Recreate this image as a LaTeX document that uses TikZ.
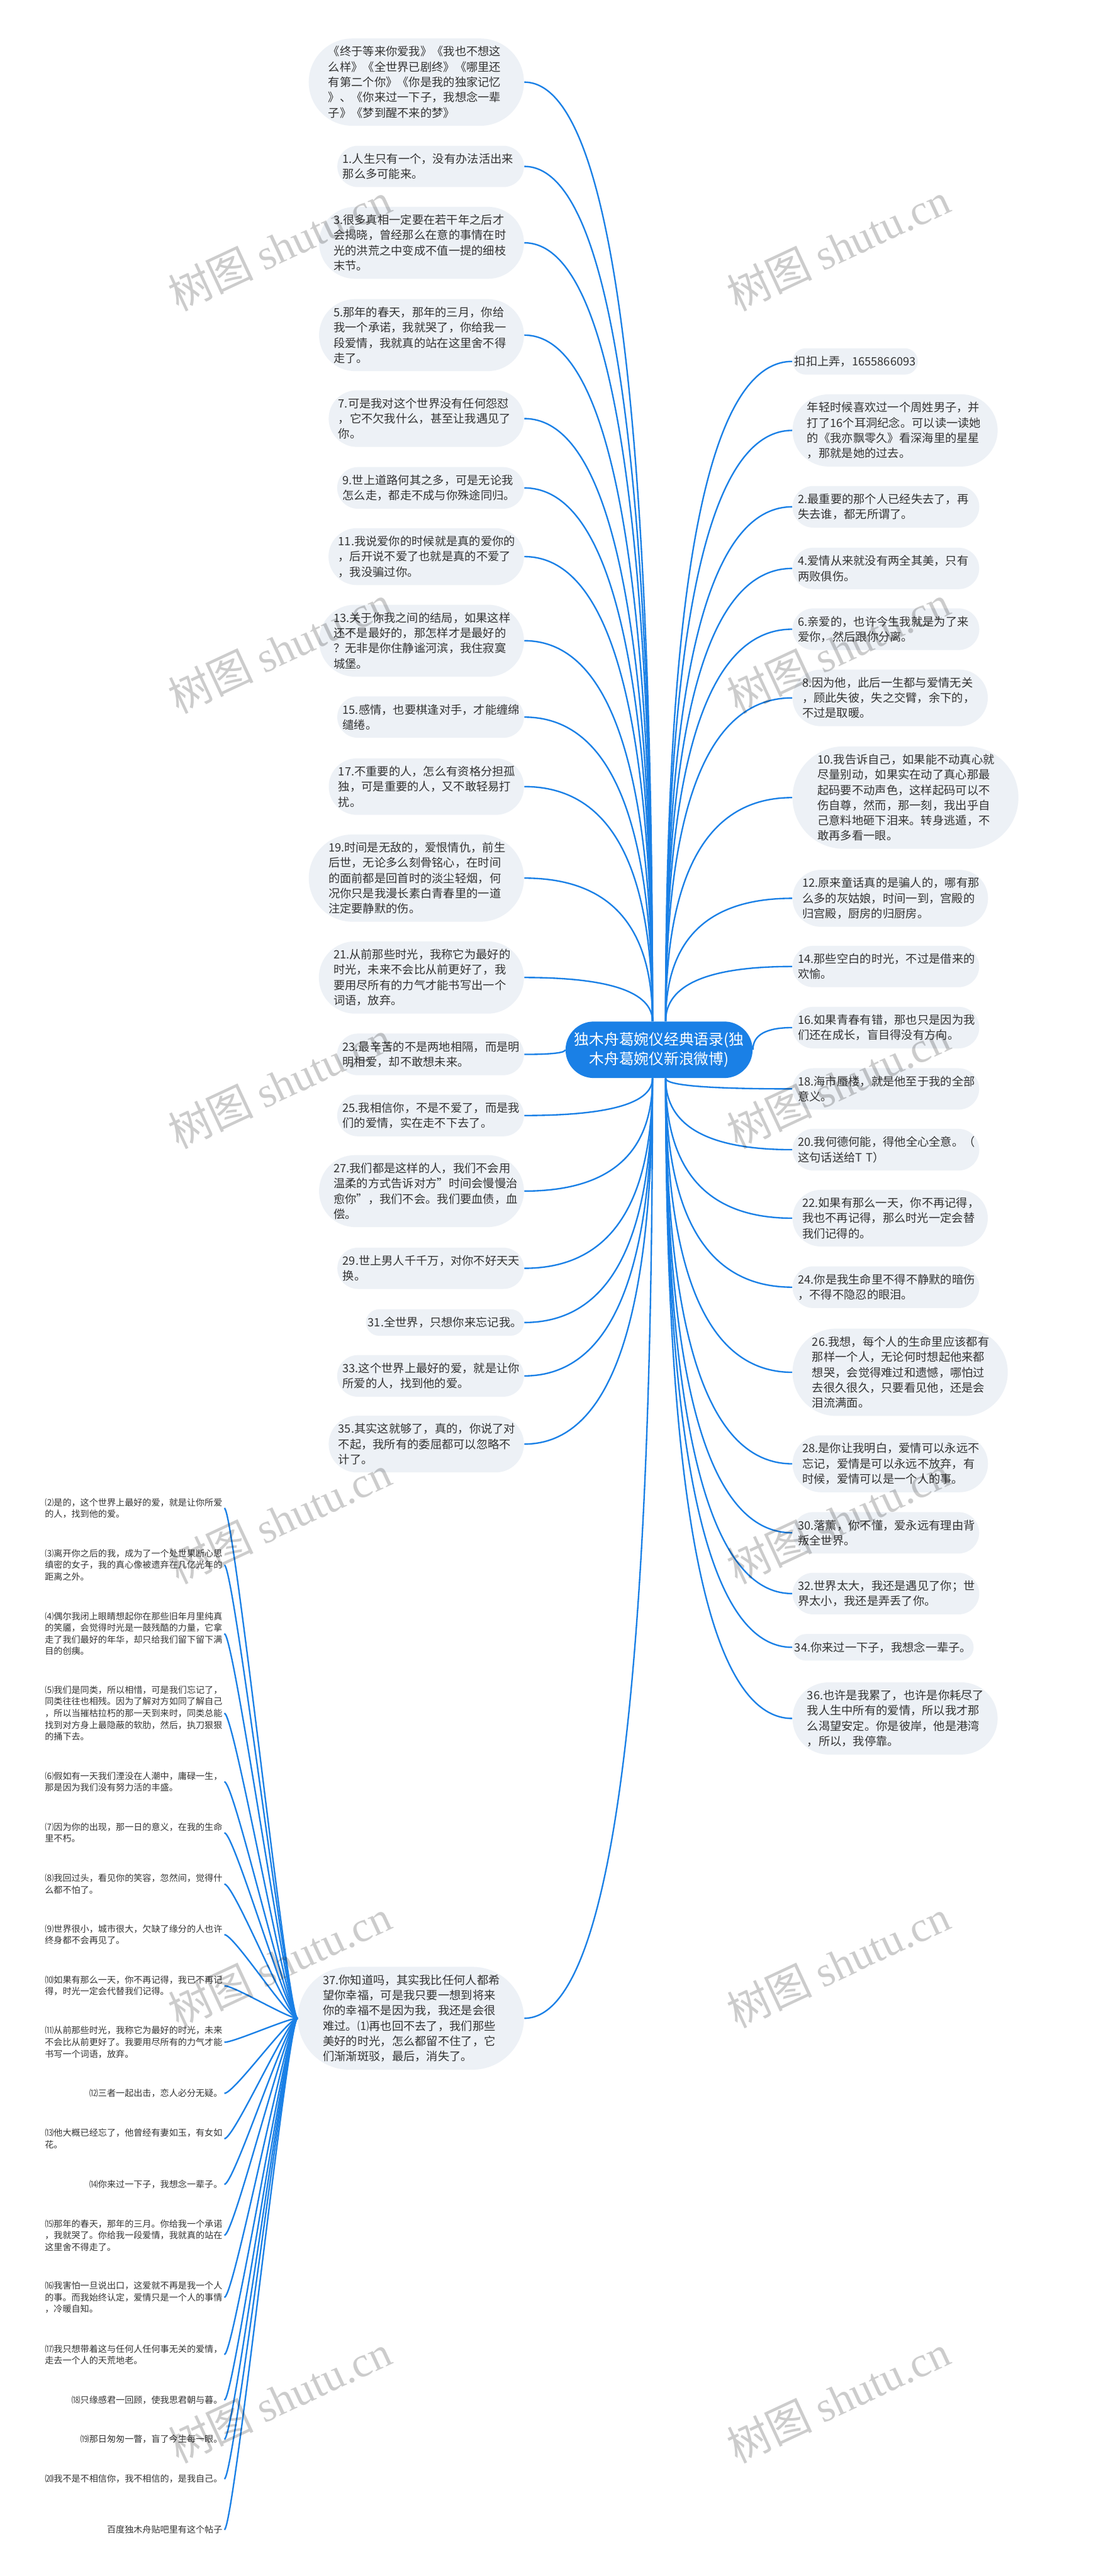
\documentclass[tikz,border=0pt]{standalone}
\usepackage{fontspec}
\setmainfont{Noto Sans CJK SC}
\newfontfamily\wmfont{Liberation Serif}
\usetikzlibrary{calc}
\usetikzlibrary{shapes.misc}
\definecolor{lineblue}{RGB}{26,128,230}
\definecolor{bubblefill}{RGB}{237,241,246}
\definecolor{textgray}{RGB}{51,51,51}

% curved branch from the root, and from a leaf text to node 37
\newcommand{\rootlink}[2]{\draw[link] (#1) .. controls ($(#1)!0.667!(#1|-#2)$) and ($(#2)!0.667!(#1|-#2)$) .. (#2);}
\newcommand{\leaflink}[2]{\draw[link] (#1.east) .. controls ($(#1.east)+(6,0)$) and ($(#2.west)+(-6,0)$) .. (#2.west);}

\begin{document}
\begin{tikzpicture}[x=1pt,y=-1pt,
  bubble/.style={rounded rectangle, fill=bubblefill, text=textgray, inner xsep=0.5pt, inner ysep=4.7pt, font=\fontsize{7}{9.3}\selectfont},
  wide/.style={text width=107pt, align=left},
  root/.style={rounded rectangle, fill=lineblue, text=white, align=center, inner xsep=1.5pt, inner ysep=6.4pt, font=\fontsize{9.1}{12.1}\selectfont},
  leaf/.style={anchor=east, align=left, inner sep=1pt, text=textgray, font=\fontsize{5.4}{7.1}\selectfont},
  link/.style={lineblue, line width=0.9pt},
  wmark/.style={text=black, opacity=0.2, rotate=25, font=\fontsize{26}{26}\selectfont}]
  \useasboundingbox[fill=white] (0,0) rectangle (677,1568);

  \node[root] (root) at (401,639) {独木舟葛婉仪经典语录(独\\木舟葛婉仪新浪微博)};
  \coordinate (rtl) at ([xshift=-4pt]root.north);
  \coordinate (rtr) at ([xshift=4pt]root.north);
  \coordinate (rbl) at ([xshift=-4pt]root.south);
  \coordinate (rbr) at ([xshift=4pt]root.south);

  % left side
  \node[bubble, wide, anchor=east] (l00) at (319,50) {《终于等来你爱我》《我也不想这\\么样》《全世界已剧终》《哪里还\\有第二个你》《你是我的独家记忆\\》、《你来过一下子，我想念一辈\\子》《梦到醒不来的梦》};
  \node[bubble, wide, anchor=east] (l01) at (319,101.3) {1.人生只有一个，没有办法活出来\\那么多可能来。};
  \node[bubble, wide, anchor=east] (l03) at (319,147.8) {3.很多真相一定要在若干年之后才\\会揭晓，曾经那么在意的事情在时\\光的洪荒之中变成不值一提的细枝\\末节。};
  \node[bubble, wide, anchor=east] (l05) at (319,204) {5.那年的春天，那年的三月，你给\\我一个承诺，我就哭了，你给我一\\段爱情，我就真的站在这里舍不得\\走了。};
  \node[bubble, wide, anchor=east] (l07) at (319,254.8) {7.可是我对这个世界没有任何怨怼\\，它不欠我什么，甚至让我遇见了\\你。};
  \node[bubble, wide, anchor=east] (l09) at (319,297) {9.世上道路何其之多，可是无论我\\怎么走，都走不成与你殊途同归。};
  \node[bubble, wide, anchor=east] (l11) at (319,338.8) {11.我说爱你的时候就是真的爱你的\\，后开说不爱了也就是真的不爱了\\，我没骗过你。};
  \node[bubble, wide, anchor=east] (l13) at (319,390) {13.关于你我之间的结局，如果这样\\还不是最好的，那怎样才是最好的\\？无非是你住静谧河滨，我住寂寞\\城堡。};
  \node[bubble, wide, anchor=east] (l15) at (319,436.5) {15.感情，也要棋逢对手，才能缠绵\\缱绻。};
  \node[bubble, wide, anchor=east] (l17) at (319,478.8) {17.不重要的人，怎么有资格分担孤\\独，可是重要的人，又不敢轻易打\\扰。};
  \node[bubble, wide, anchor=east] (l19) at (319,534.5) {19.时间是无敌的，爱恨情仇，前生\\后世，无论多么刻骨铭心，在时间\\的面前都是回首时的淡尘轻烟，何\\况你只是我漫长素白青春里的一道\\注定要静默的伤。};
  \node[bubble, wide, anchor=east] (l21) at (319,595) {21.从前那些时光，我称它为最好的\\时光，未来不会比从前更好了，我\\要用尽所有的力气才能书写出一个\\词语，放弃。};
  \node[bubble, wide, anchor=east] (l23) at (319,641.8) {23.最辛苦的不是两地相隔，而是明\\明相爱，却不敢想未来。};
  \node[bubble, wide, anchor=east] (l25) at (319,679) {25.我相信你，不是不爱了，而是我\\们的爱情，实在走不下去了。};
  \node[bubble, wide, anchor=east] (l27) at (319,725) {27.我们都是这样的人，我们不会用\\温柔的方式告诉对方"时间会慢慢治\\愈你"，我们不会。我们要血债，血\\偿。};
  \node[bubble, wide, anchor=east] (l29) at (319,772) {29.世上男人千千万，对你不好天天\\换。};
  \node[bubble, anchor=east] (l31) at (319,805) {31.全世界，只想你来忘记我。};
  \node[bubble, wide, anchor=east] (l33) at (319,837.5) {33.这个世界上最好的爱，就是让你\\所爱的人，找到他的爱。};
  \node[bubble, wide, anchor=east] (l35) at (319,879) {35.其实这就够了，真的，你说了对\\不起，我所有的委屈都可以忽略不\\计了。};
  \node[bubble, wide, anchor=east] (n37) at (319,1228.5) {37.你知道吗，其实我比任何人都希\\望你幸福，可是我只要一想到将来\\你的幸福不是因为我，我还是会很\\难过。⑴再也回不去了，我们那些\\美好的时光，怎么都留不住了，它\\们渐渐斑驳，最后，消失了。};

  % right side
  \node[bubble, anchor=west] (r00) at (482,220) {扣扣上弄，1655866093};
  \node[bubble, wide, anchor=west] (r0a) at (482,262) {年轻时候喜欢过一个周姓男子，并\\打了16个耳洞纪念。可以读一读她\\的《我亦飘零久》看深海里的星星\\，那就是她的过去。};
  \node[bubble, wide, anchor=west] (r02) at (482,308.5) {2.最重要的那个人已经失去了，再\\失去谁，都无所谓了。};
  \node[bubble, wide, anchor=west] (r04) at (482,346) {4.爱情从来就没有两全其美，只有\\两败俱伤。};
  \node[bubble, wide, anchor=west] (r06) at (482,383) {6.亲爱的，也许今生我就是为了来\\爱你，然后跟你分离。};
  \node[bubble, wide, anchor=west] (r08) at (482,424.8) {8.因为他，此后一生都与爱情无关\\，顾此失彼，失之交臂，余下的，\\不过是取暖。};
  \node[bubble, wide, anchor=west] (r10) at (482,485.5) {10.我告诉自己，如果能不动真心就\\尽量别动，如果实在动了真心那最\\起码要不动声色，这样起码可以不\\伤自尊，然而，那一刻，我出乎自\\己意料地砸下泪来。转身逃遁，不\\敢再多看一眼。};
  \node[bubble, wide, anchor=west] (r12) at (482,546.8) {12.原来童话真的是骗人的，哪有那\\么多的灰姑娘，时间一到，宫殿的\\归宫殿，厨房的归厨房。};
  \node[bubble, wide, anchor=west] (r14) at (482,588.3) {14.那些空白的时光，不过是借来的\\欢愉。};
  \node[bubble, wide, anchor=west] (r16) at (482,625.5) {16.如果青春有错，那也只是因为我\\们还在成长，盲目得没有方向。};
  \node[bubble, wide, anchor=west] (r18) at (482,662.8) {18.海市蜃楼，就是他至于我的全部\\意义。};
  \node[bubble, wide, anchor=west] (r20) at (482,699.8) {20.我何德何能，得他全心全意。（\\这句话送给T T）};
  \node[bubble, wide, anchor=west] (r22) at (482,741.5) {22.如果有那么一天，你不再记得，\\我也不再记得，那么时光一定会替\\我们记得的。};
  \node[bubble, wide, anchor=west] (r24) at (482,783.5) {24.你是我生命里不得不静默的暗伤\\，不得不隐忍的眼泪。};
  \node[bubble, wide, anchor=west] (r26) at (482,835.3) {26.我想，每个人的生命里应该都有\\那样一个人，无论何时想起他来都\\想哭，会觉得难过和遗憾，哪怕过\\去很久很久，只要看见他，还是会\\泪流满面。};
  \node[bubble, wide, anchor=west] (r28) at (482,891) {28.是你让我明白，爱情可以永远不\\忘记，爱情是可以永远不放弃，有\\时候，爱情可以是一个人的事。};
  \node[bubble, wide, anchor=west] (r30) at (482,933) {30.落薰，你不懂，爱永远有理由背\\叛全世界。};
  \node[bubble, wide, anchor=west] (r32) at (482,970) {32.世界太大，我还是遇见了你；世\\界太小，我还是弄丢了你。};
  \node[bubble, anchor=west] (r34) at (482,1002.7) {34.你来过一下子，我想念一辈子。};
  \node[bubble, wide, anchor=west] (r36) at (482,1046) {36.也许是我累了，也许是你耗尽了\\我人生中所有的爱情，所以我才那\\么渴望安定。你是彼岸，他是港湾\\，所以，我停靠。};

  % texts under 37
  \node[leaf] (c02) at (136.5,918) {⑵是的，这个世界上最好的爱，就是让你所爱\\的人，找到他的爱。};
  \node[leaf] (c03) at (136.5,952.6) {⑶离开你之后的我，成为了一个处世果断心思\\缜密的女子，我的真心像被遗弃在几亿光年的\\距离之外。};
  \node[leaf] (c04) at (136.5,994.4) {⑷偶尔我闭上眼睛想起你在那些旧年月里纯真\\的笑靥，会觉得时光是一鼓残酷的力量，它拿\\走了我们最好的年华，却只给我们留下留下满\\目的创痍。};
  \node[leaf] (c05) at (136.5,1042.8) {⑸我们是同类，所以相惜，可是我们忘记了，\\同类往往也相残。因为了解对方如同了解自己\\，所以当摧枯拉朽的那一天到来时，同类总能\\找到对方身上最隐蔽的软肋，然后，执刀狠狠\\的捅下去。};
  \node[leaf] (c06) at (136.5,1084.5) {⑹假如有一天我们湮没在人潮中，庸碌一生，\\那是因为我们没有努力活的丰盛。};
  \node[leaf] (c07) at (136.5,1115.6) {⑺因为你的出现，那一日的意义，在我的生命\\里不朽。};
  \node[leaf] (c08) at (136.5,1146.8) {⑻我回过头，看见你的笑容，忽然间，觉得什\\么都不怕了。};
  \node[leaf] (c09) at (136.5,1177.6) {⑼世界很小，城市很大，欠缺了缘分的人也许\\终身都不会再见了。};
  \node[leaf] (c10) at (136.5,1208.7) {⑽如果有那么一天，你不再记得，我已不再记\\得，时光一定会代替我们记得。};
  \node[leaf] (c11) at (136.5,1243.1) {⑾从前那些时光，我称它为最好的时光，未来\\不会比从前更好了。我要用尽所有的力气才能\\书写一个词语，放弃。};
  \node[leaf] (c12) at (136.5,1274.2) {⑿三者一起出击，恋人必分无疑。};
  \node[leaf] (c13) at (136.5,1301.8) {⒀他大概已经忘了，他曾经有妻如玉，有女如\\花。};
  \node[leaf] (c14) at (136.5,1329.6) {⒁你来过一下子，我想念一辈子。};
  \node[leaf] (c15) at (136.5,1360.6) {⒂那年的春天，那年的三月。你给我一个承诺\\，我就哭了。你给我一段爱情，我就真的站在\\这里舍不得走了。};
  \node[leaf] (c16) at (136.5,1398.4) {⒃我害怕一旦说出口，这爱就不再是我一个人\\的事。而我始终认定，爱情只是一个人的事情\\，冷暖自知。};
  \node[leaf] (c17) at (136.5,1433.2) {⒄我只想带着这与任何人任何事无关的爱情，\\走去一个人的天荒地老。};
  \node[leaf] (c18) at (136.5,1460.9) {⒅只缘感君一回顾，使我思君朝与暮。};
  \node[leaf] (c19) at (136.5,1484.8) {⒆那日匆匆一瞥，盲了今生每一眼。};
  \node[leaf] (c20) at (136.5,1508.9) {⒇我不是不相信你，我不相信的，是我自己。};
  \node[leaf] (cbd) at (136.5,1539.8) {百度独木舟贴吧里有这个帖子};

  % branches
  \foreach \n in {l00,l01,l03,l05,l07,l09,l11,l13,l15,l17,l19,l21}
    {\rootlink{rtl}{\n.east}}
  \rootlink{root.west}{l23.east}
  \foreach \n in {l25,l27,l29,l31,l33,l35,n37}
    {\rootlink{rbl}{\n.east}}
  \foreach \n in {r00,r0a,r02,r04,r06,r08,r10,r12,r14}
    {\rootlink{rtr}{\n.west}}
  \rootlink{root.east}{r16.west}
  \foreach \n in {r18,r20,r22,r24,r26,r28,r30,r32,r34,r36}
    {\rootlink{rbr}{\n.west}}
  \foreach \n in {c02,c03,c04,c05,c06,c07,c08,c09,c10,c11,c12,c13,c14,c15,c16,c17,c18,c19,c20,cbd}
    {\leaflink{\n}{n37}}

  % watermark
  \foreach \y in {150,395,660,925,1195,1460} {
    \node[wmark] (wl\y) at (170,\y) {树图 {\wmfont shutu.cn}};
    \node[wmark] (wr\y) at (510,\y) {树图 {\wmfont shutu.cn}};
  }
\end{tikzpicture}
\end{document}
